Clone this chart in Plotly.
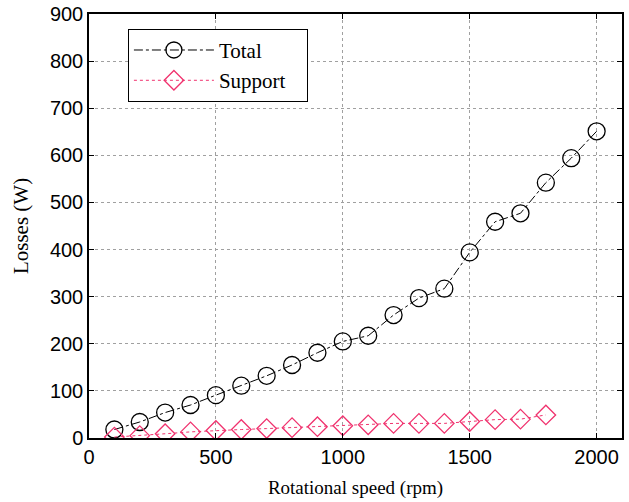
import plotly.graph_objects as go

speed_total = [100, 200, 300, 400, 500, 600, 700, 800, 900, 1000,
               1100, 1200, 1300, 1400, 1500, 1600, 1700, 1800, 1900, 2000]
loss_total = [18, 34, 54, 70, 91, 111, 132, 155, 181, 205,
              217, 261, 297, 317, 394, 459, 477, 542, 594, 651]
speed_support = [100, 200, 300, 400, 500, 600, 700, 800, 900, 1000,
                 1100, 1200, 1300, 1400, 1500, 1600, 1700, 1800]
loss_support = [2, 5, 9, 13, 16, 18, 20, 22, 24, 26,
                28, 31, 31, 31, 35, 39, 40, 49]

x_ticks = [0, 500, 1000, 1500, 2000]
y_ticks = [0, 100, 200, 300, 400, 500, 600, 700, 800, 900]

PINK = "#f0326e"
SERIF = "Liberation Serif, Times New Roman, serif"
SANS = "Liberation Sans, Arial, sans-serif"

fig = go.Figure()
fig.add_trace(go.Scatter(
    x=speed_total, y=loss_total, name="Total   ", mode="lines+markers",
    line=dict(color="black", width=1, dash="dashdot"),
    marker=dict(symbol="circle-open", size=17, color="black", line=dict(width=1.3)),
))
fig.add_trace(go.Scatter(
    x=speed_support, y=loss_support, name="Support   ", mode="lines+markers",
    line=dict(color=PINK, width=1, dash="dot"),
    marker=dict(symbol="diamond-open", size=15, color=PINK, line=dict(width=1.3)),
))

axis_common = dict(
    showline=True, linecolor="black", linewidth=1.5, mirror="allticks",
    ticks="inside", ticklen=5, tickcolor="black",
    showgrid=True, gridcolor="#a0a0a0", griddash="dot", gridwidth=1,
    zeroline=False, automargin=False,
    tickfont=dict(family=SANS, size=20, color="black"),
)

fig.update_xaxes(range=[0, 2100], tickvals=x_ticks,
                 title=dict(text="Rotational speed (rpm)", font=dict(family=SERIF, size=19, color="black"), standoff=14),
                 **axis_common)
fig.update_yaxes(range=[0, 900], tickvals=y_ticks,
                 title=dict(text="Losses (W)", font=dict(family=SERIF, size=21, color="black"), standoff=16),
                 **axis_common)

fig.update_layout(
    width=629, height=502,
    margin=dict(l=89, r=7, t=14, b=64),
    plot_bgcolor="white", paper_bgcolor="white",
    showlegend=True,
    legend=dict(x=0.073, y=0.965, xanchor="left", yanchor="top",
                bgcolor="white", bordercolor="black", borderwidth=1,
                font=dict(family=SERIF, size=21, color="black"),
                itemwidth=80, tracegroupgap=0),
)

fig.write_html("out.html", config={"displayModeBar": False},
               post_script="document.body.style.margin='0';")
